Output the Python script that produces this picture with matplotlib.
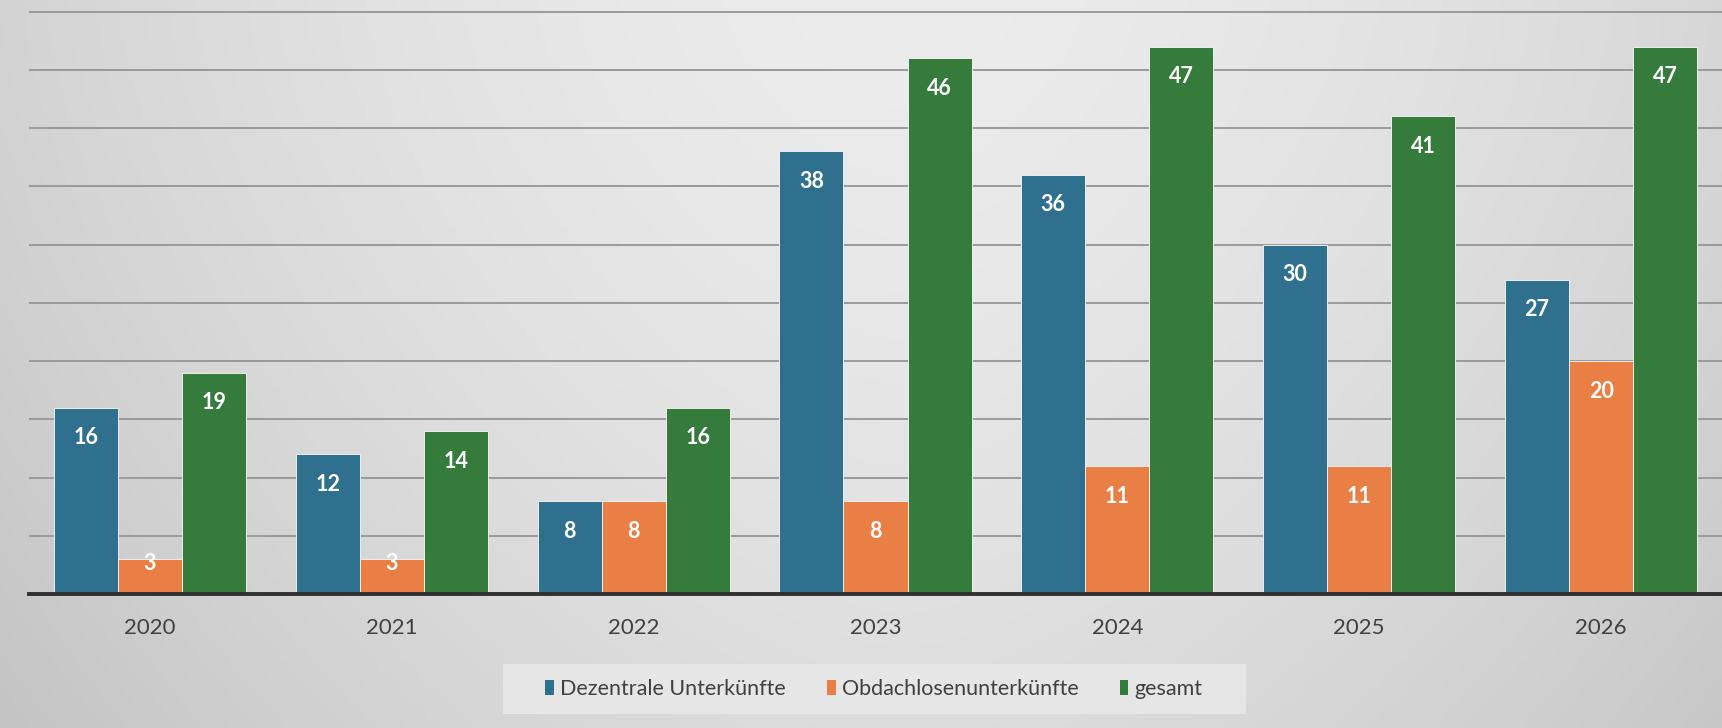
import numpy as np
import matplotlib.pyplot as plt
from matplotlib.patches import Patch, Rectangle

years = ['2020', '2021', '2022', '2023', '2024', '2025', '2026']
dezentral = [16, 12, 8, 38, 36, 30, 27]
obdachlos = [3, 3, 8, 8, 11, 11, 20]
gesamt = [19, 14, 16, 46, 47, 41, 47]

series = [('Dezentrale Unterkünfte', dezentral, '#30708f'),
          ('Obdachlosenunterkünfte', obdachlos, '#e97f45'),
          ('gesamt', gesamt, '#357b3c')]

plt.rcParams['font.family'] = ['Lato', 'DejaVu Sans']

fig = plt.figure(figsize=(17.22, 7.28), dpi=100)

# background gradient (lighter in the upper middle, darker at edges)
bg = fig.add_axes([0, 0, 1, 1], zorder=-10)
gx = np.linspace(-1, 1, 400)
gy = np.linspace(0, 1, 200)
X, Y = np.meshgrid(gx, gy)
shade = 0.925 - 0.09 * np.abs(X - 0.05) ** 1.6 - 0.06 * Y ** 1.5
bg.imshow(np.dstack([shade] * 3), aspect='auto', extent=[0, 1, 0, 1])
bg.axis('off')

ax = fig.add_axes([29 / 1722, 134 / 728, 1 - 29 / 1722, 594 / 728])
ax.patch.set_alpha(0)

x = np.arange(len(years))
w = 0.265
for i, (name, vals, col) in enumerate(series):
    pos = x + (i - 1) * w
    ax.bar(pos, vals, w, color=col, edgecolor='#eeeeee', linewidth=0.7,
           label=name, zorder=3)
    for p, v in zip(pos, vals):
        ax.text(p, max(v - 2.6, 2.6), str(v), ha='center', va='center',
                color='white', fontsize=15.5, fontweight='bold', zorder=4)

ax.set_xlim(-0.5, len(years) - 0.5)
ax.set_ylim(0, 51)
ax.set_yticks(range(5, 51, 5))
ax.yaxis.grid(True, color='#9a9a9a', linewidth=1.4, zorder=1)
ax.set_axisbelow(True)
ax.tick_params(axis='y', left=False, labelleft=False)
ax.tick_params(axis='x', length=0, pad=17, labelsize=16, labelcolor='#404040')
ax.set_xticks(x)
ax.set_xticklabels(years)
for s in ['top', 'right', 'left']:
    ax.spines[s].set_visible(False)
ax.spines['bottom'].set_color('#303030')
ax.spines['bottom'].set_linewidth(2.8)
ax.spines['bottom'].set_zorder(5)

# legend box
fig.patches.append(Rectangle((503 / 1722, 14 / 728), 743 / 1722, 50 / 728,
                             transform=fig.transFigure, facecolor='#e6e6e6',
                             edgecolor='none', zorder=-5))
handles = [Patch(facecolor=c, label=n) for n, _, c in series]
leg = fig.legend(handles=handles, loc='center', bbox_to_anchor=(874 / 1722, 39 / 728),
                 ncol=3, frameon=False, fontsize=15.5, handlelength=0.4, handleheight=0.65,
                 handletextpad=0.3, columnspacing=1.9, labelcolor='#404040')

fig.savefig('out.png', dpi=100)
